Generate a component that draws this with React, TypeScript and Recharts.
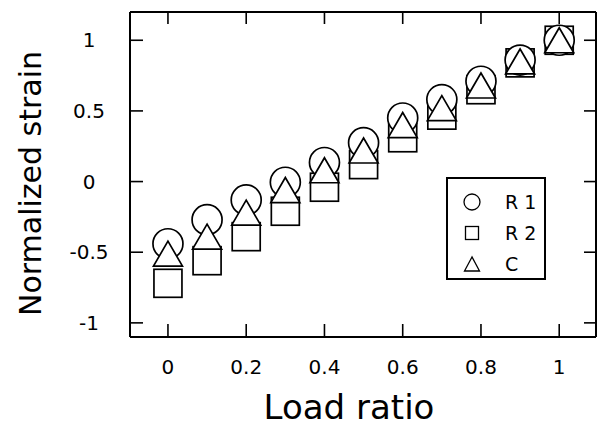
import React from 'react';
import { ScatterChart, Scatter, XAxis, YAxis, Legend } from 'recharts';

const loadRatio = [0, 0.1, 0.2, 0.3, 0.4, 0.5, 0.6, 0.7, 0.8, 0.9, 1.0];
const r1Strain = [-0.44, -0.27, -0.13, -0.005, 0.135, 0.275, 0.45, 0.58, 0.71, 0.86, 1.0];
const r2Strain = [-0.72, -0.56, -0.39, -0.21, -0.04, 0.12, 0.31, 0.47, 0.65, 0.84, 1.0];
const cStrain = [-0.51, -0.39, -0.22, -0.06, 0.08, 0.22, 0.4, 0.52, 0.68, 0.85, 1.0];

const xTicks = [0, 0.2, 0.4, 0.6, 0.8, 1];
const xTickLabels = ['0', '0.2', '0.4', '0.6', '0.8', '1'];
const yTicks = [-1, -0.5, 0, 0.5, 1];
const yTickLabels = ['-1', '-0.5', '0', '0.5', '1'];
const seriesNames = ['R 1', 'R 2', 'C'];
const xTitle = 'Load ratio';
const yTitle = 'Normalized strain';

const FONT = '"DejaVu Sans", sans-serif';
const W = 598;
const H = 430;
const PLOT_LEFT = 130;
const PLOT_RIGHT = 597;
const PLOT_TOP = 11;
const PLOT_BOTTOM = 337;
const TICK = 13;

const toPoints = (ys: number[]) => loadRatio.map((x, i) => ({ x, y: ys[i] }));
const r1Data = toPoints(r1Strain);
const r2Data = toPoints(r2Strain);
const cData = toPoints(cStrain);

const CircleShape = (p: any) => (
  <circle cx={p.cx} cy={p.cy} r={15} fill="#fff" stroke="#000" strokeWidth={1.7} />
);
const SquareShape = (p: any) => (
  <rect x={p.cx - 14} y={p.cy - 14} width={28} height={28} fill="#fff" stroke="#000" strokeWidth={1.7} />
);
const TriangleShape = (p: any) => (
  <polygon
    points={`${p.cx},${p.cy - 12.5} ${p.cx - 14.5},${p.cy + 12.5} ${p.cx + 14.5},${p.cy + 12.5}`}
    fill="#fff"
    stroke="#000"
    strokeWidth={1.7}
  />
);

const labelFor = (v: number, ticks: number[], labels: string[]) => {
  const i = ticks.findIndex((t) => Math.abs(t - v) < 1e-9);
  return i >= 0 ? labels[i] : String(v);
};

const XTickBottom = (props: any) => {
  const { x, payload } = props;
  return (
    <g>
      <line x1={x} x2={x} y1={PLOT_BOTTOM} y2={PLOT_BOTTOM - TICK} stroke="#000" strokeWidth={1.6} />
      <text x={x} y={PLOT_BOTTOM + 37} textAnchor="middle" fontFamily={FONT} fontSize={20} fill="#000">
        {labelFor(payload.value, xTicks, xTickLabels)}
      </text>
    </g>
  );
};
const XTickTop = (props: any) => {
  const { x } = props;
  return <line x1={x} x2={x} y1={PLOT_TOP} y2={PLOT_TOP + TICK} stroke="#000" strokeWidth={1.6} />;
};
const YTickLeft = (props: any) => {
  const { y, payload } = props;
  return (
    <g>
      <line x1={PLOT_LEFT} x2={PLOT_LEFT + TICK} y1={y} y2={y} stroke="#000" strokeWidth={1.6} />
      <text x={PLOT_LEFT - 41} y={y} dy="0.36em" textAnchor="middle" fontFamily={FONT} fontSize={20} fill="#000">
        {labelFor(payload.value, yTicks, yTickLabels)}
      </text>
    </g>
  );
};
const YTickRight = (props: any) => {
  const { y } = props;
  return <line x1={PLOT_RIGHT} x2={PLOT_RIGHT - TICK} y1={y} y2={y} stroke="#000" strokeWidth={1.6} />;
};

const LegendBox = () => {
  const rows = [
    { name: seriesNames[0], kind: 'circle', y: 25 },
    { name: seriesNames[1], kind: 'square', y: 56 },
    { name: seriesNames[2], kind: 'triangle', y: 87 },
  ];
  return (
    <svg width={100} height={103} style={{ display: 'block', overflow: 'visible' }}>
      <rect x={1} y={1} width={98} height={101} fill="#fff" stroke="#000" strokeWidth={2} />
      {rows.map((r) => (
        <g key={r.name}>
          {r.kind === 'circle' && <circle cx={26} cy={r.y} r={8} fill="#fff" stroke="#000" strokeWidth={1.3} />}
          {r.kind === 'square' && (
            <rect x={19.5} y={r.y - 6.5} width={13} height={13} fill="#fff" stroke="#000" strokeWidth={1.3} />
          )}
          {r.kind === 'triangle' && (
            <polygon
              points={`26,${r.y - 7} 18.5,${r.y + 7} 33.5,${r.y + 7}`}
              fill="#fff"
              stroke="#000"
              strokeWidth={1.3}
            />
          )}
          <text x={59} y={r.y} dy="0.36em" fontFamily={FONT} fontSize={19} fill="#000">
            {r.name}
          </text>
        </g>
      ))}
    </svg>
  );
};

export default function App() {
  return (
    <div style={{ position: 'absolute', left: 0, top: 0, width: W, height: H, background: '#fff' }}>
      <ScatterChart
        width={W}
        height={H}
        margin={{ top: PLOT_TOP, right: W - PLOT_RIGHT, bottom: 0, left: 0 }}
      >
        <XAxis
          xAxisId="b"
          type="number"
          dataKey="x"
          domain={[-0.097, 1.094]}
          ticks={xTicks}
          allowDataOverflow
          height={H - PLOT_BOTTOM}
          orientation="bottom"
          axisLine={{ stroke: '#000', strokeWidth: 2 }}
          tickLine={false}
          tick={<XTickBottom />}
          label={{
            value: xTitle,
            position: 'insideBottom',
            offset: 11,
            dx: -14,
            style: { fontFamily: FONT, fontSize: 34, fill: '#000' },
          }}
        />
        <XAxis
          xAxisId="t"
          type="number"
          dataKey="x"
          domain={[-0.097, 1.094]}
          ticks={xTicks}
          allowDataOverflow
          height={1}
          orientation="top"
          axisLine={{ stroke: '#000', strokeWidth: 2 }}
          tickLine={false}
          tick={<XTickTop />}
        />
        <YAxis
          yAxisId="l"
          type="number"
          dataKey="y"
          domain={[-1.1, 1.2]}
          ticks={yTicks}
          allowDataOverflow
          width={PLOT_LEFT}
          orientation="left"
          axisLine={{ stroke: '#000', strokeWidth: 2 }}
          tickLine={false}
          tick={<YTickLeft />}
          label={{
            value: yTitle,
            angle: -90,
            position: 'insideLeft',
            offset: 0,
            dx: 30,
            dy: 9,
            style: { fontFamily: FONT, fontSize: 30, fill: '#000', textAnchor: 'middle' },
          }}
        />
        <YAxis
          yAxisId="r"
          type="number"
          dataKey="y"
          domain={[-1.1, 1.2]}
          ticks={yTicks}
          allowDataOverflow
          width={1}
          orientation="right"
          axisLine={{ stroke: '#000', strokeWidth: 2 }}
          tickLine={false}
          tick={<YTickRight />}
        />
        <Scatter name={seriesNames[1]} data={r2Data} xAxisId="b" yAxisId="l" shape={SquareShape} isAnimationActive={false} />
        <Scatter name={seriesNames[0]} data={r1Data} xAxisId="b" yAxisId="l" shape={CircleShape} isAnimationActive={false} />
        <Scatter name={seriesNames[2]} data={cData} xAxisId="b" yAxisId="l" shape={TriangleShape} isAnimationActive={false} />
        <Legend
          content={<LegendBox />}
          wrapperStyle={{ position: 'absolute', left: 446, top: 177, width: 0, height: 0, overflow: 'visible' }}
        />
      </ScatterChart>
    </div>
  );
}
